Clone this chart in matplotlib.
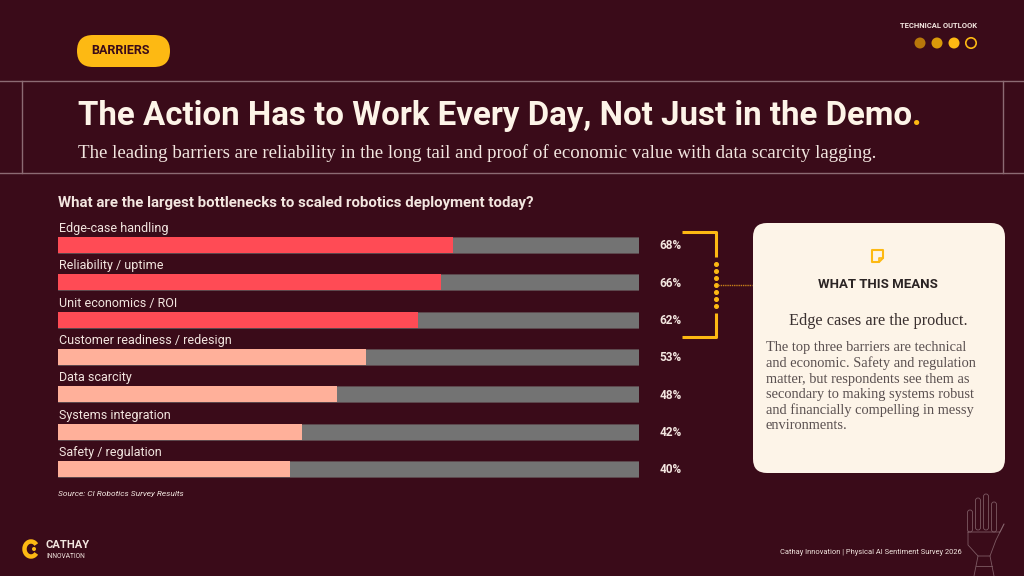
import matplotlib
matplotlib.use("Agg")
import matplotlib.pyplot as plt
from matplotlib.patches import FancyBboxPatch, Circle, Arc, Polygon
import matplotlib.transforms as mtransforms
import numpy as np

#### DATA ####
categories = ["Edge-case handling", "Reliability / uptime", "Unit economics / ROI",
              "Customer readiness / redesign", "Data scarcity", "Systems integration",
              "Safety / regulation"]
values = [68, 66, 62, 53, 48, 42, 40]
highlight = [True, True, True, False, False, False, False]

title = "The Action Has to Work Every Day, Not Just in the Demo"
subtitle = ("The leading barriers are reliability in the long tail and proof of economic "
            "value with data scarcity lagging.")
question = "What are the largest bottlenecks to scaled robotics deployment today?"
card_head = "WHAT THIS MEANS"
card_lead = "Edge cases are the product."
card_body = ["The top three barriers are technical",
             "and economic. Safety and regulation",
             "matter, but respondents see them as",
             "secondary to making systems robust",
             "and financially compelling in messy",
             "environments."]

#### STYLE ####
BG = "#3a0b19"
RED = "#ff4b55"
SALMON = "#ffb09a"
TRACK = "#737373"
YELLOW = "#fdb913"
CREAM = "#fdf4e8"
LIGHT = "#f3e6e0"
LINE = "#8c6b73"
SANS = ["Roboto", "DejaVu Sans"]
SERIF = ["Liberation Serif", "DejaVu Serif"]

W, H = 1024, 576
fig = plt.figure(figsize=(W / 100, H / 100), dpi=100)
fig.set_facecolor(BG)

# canvas axes in pixel coords
bg = fig.add_axes([0, 0, 1, 1])
bg.set_xlim(0, W)
bg.set_ylim(H, 0)
bg.axis("off")
bg.set_facecolor(BG)

# frame lines
bg.plot([0, W], [81, 81], color=LINE, lw=1)
bg.plot([0, W], [173, 173], color=LINE, lw=1)
bg.plot([22, 22], [81, 173], color=LINE, lw=1)
bg.plot([1003, 1003], [81, 173], color=LINE, lw=1)

# badge
bg.add_patch(FancyBboxPatch((77, 35), 93, 32, boxstyle="round,pad=0,rounding_size=16",
                            fc=YELLOW, ec="none"))
bg.text(121, 51, "BARRIERS", ha="center", va="center", fontsize=9, fontweight="bold",
        color=BG, family=SANS)

# top right
bg.text(977, 26, "TECHNICAL OUTLOOK", ha="right", va="center", fontsize=5.5,
        fontweight="bold", color=LIGHT, family=SANS)
for cx, col in zip([920, 937, 954], ["#b7770a", "#d99a0a", YELLOW]):
    bg.add_patch(Circle((cx, 43), 5.5, fc=col, ec="none"))
bg.add_patch(Circle((971, 43), 5.2, fc="none", ec=YELLOW, lw=1.2))

# title with yellow period
t = bg.text(78, 116, title, ha="left", va="center", fontsize=23.8, fontweight="bold",
            color=CREAM, family=SANS)
fig.canvas.draw()
x_end = t.get_window_extent().x1
bg.text(x_end, 116, ".", ha="left", va="center", fontsize=23.8, fontweight="bold",
        color=YELLOW, family=SANS,
        transform=mtransforms.blended_transform_factory(mtransforms.IdentityTransform(),
                                                        bg.transData))
bg.text(78, 153, subtitle, ha="left", va="center", fontsize=13.6, color=LIGHT, family=SERIF)

# question
bg.text(58, 203, question, ha="left", va="center", fontsize=10.8, fontweight="bold",
        color=LIGHT, family=SANS)

# bars axes: tracks span x 58..639 px, rows centered 245..469 px
row_gap = (469 - 245) / (len(categories) - 1)
top_px = 245 - row_gap / 2
bot_px = 469 + row_gap / 2
ax = fig.add_axes([58 / W, 1 - bot_px / H, 581 / W, (bot_px - top_px) / H])
ax.set_xlim(0, 100)
ax.set_ylim(len(categories) - 0.5, -0.5)
ax.axis("off")
ax.patch.set_alpha(0)

ypos = np.arange(len(categories))
bar_h = 16 / row_gap
ax.barh(ypos, [100] * len(categories), height=bar_h, color=TRACK, edgecolor="#5e4a4f",
        linewidth=0.6)
ax.barh(ypos, values, height=bar_h, color=[RED if h else SALMON for h in highlight],
        edgecolor="none")
for i, (cat, v) in enumerate(zip(categories, values)):
    ax.text(0.1, i - 0.44, cat, ha="left", va="center", fontsize=9, color=LIGHT,
            family=SANS, clip_on=False)
    ax.text(105.4, i + 0.02, f"{v}%", ha="center", va="center", fontsize=8.5,
            fontweight="bold", color=LIGHT, family=SANS, clip_on=False)

bg.text(58, 494, "Source: CI Robotics Survey Results", ha="left", va="center",
        fontsize=6, style="italic", color=LIGHT, family=SANS)

# bracket
bk = dict(color=YELLOW, lw=2.2, solid_capstyle="butt")
bg.plot([682, 716, 716], [232, 232, 257], **bk)
bg.plot([682, 716, 716], [337, 337, 313], **bk)
bg.plot([716] * 7, np.linspace(264, 306, 7), "o", color=YELLOW, ms=2.6)
bg.plot([718, 752], [285, 285], color="#c7801a", lw=1, ls=(0, (1, 0.6)))

# card
bg.add_patch(FancyBboxPatch((753, 223), 252, 250, boxstyle="round,pad=0,rounding_size=14",
                            fc=CREAM, ec="none"))
bg.add_patch(Polygon([[872, 250], [883, 250], [883, 258], [879, 262], [872, 262]],
                     closed=True, fc="none", ec=YELLOW, lw=1.5, joinstyle="round"))
bg.plot([883, 879, 879], [258, 258, 262], color=YELLOW, lw=1.2)
bg.text(878, 284, card_head, ha="center", va="center", fontsize=9.5, fontweight="bold",
        color="#2b2424", family=SANS)
bg.text(878, 321, card_lead, ha="center", va="center", fontsize=11.7, color="#3a3030",
        family=SERIF)
for k, line in enumerate(card_body):
    bg.text(766, 348 + k * 15.5, line, ha="left", va="center", fontsize=10.4,
            color="#5a5050", family=SERIF)

# footer
bg.text(962, 553, "Cathay Innovation | Physical AI Sentiment Survey 2026", ha="right",
        va="center", fontsize=5.4, color=LIGHT, family=SANS)
bg.add_patch(Arc((31, 549), 13, 15, theta1=40, theta2=320, color=YELLOW, lw=3.2))
bg.add_patch(Circle((34, 549), 2, fc=YELLOW, ec="none"))
bg.text(46, 545, "CATHAY", ha="left", va="center", fontsize=8, fontweight="bold",
        color=LIGHT, family=SANS)
bg.text(46, 556, "INNOVATION", ha="left", va="center", fontsize=4.8, color=LIGHT,
        family=SANS)

# robotic hand outline (decorative)
hc = "#7d5a63"
for fx, fy0, fh in [(970, 510, 22), (978, 498, 32), (986, 494, 36), (994, 502, 30)]:
    bg.add_patch(FancyBboxPatch((fx - 2.5, fy0), 5, fh,
                                boxstyle="round,pad=0,rounding_size=2.5",
                                fc="none", ec=hc, lw=0.6))
bg.plot([968, 1000, 1004, 996, 990, 978, 968, 968], [532, 532, 524, 540, 556, 556, 545, 532],
        color=hc, lw=0.6)
bg.plot([978, 976, 974], [556, 566, 576], color=hc, lw=0.6)
bg.plot([990, 992, 994], [556, 566, 576], color=hc, lw=0.6)
bg.plot([976, 992], [566, 566], color=hc, lw=0.6)

fig.savefig("out.png", dpi=100, facecolor=BG)
